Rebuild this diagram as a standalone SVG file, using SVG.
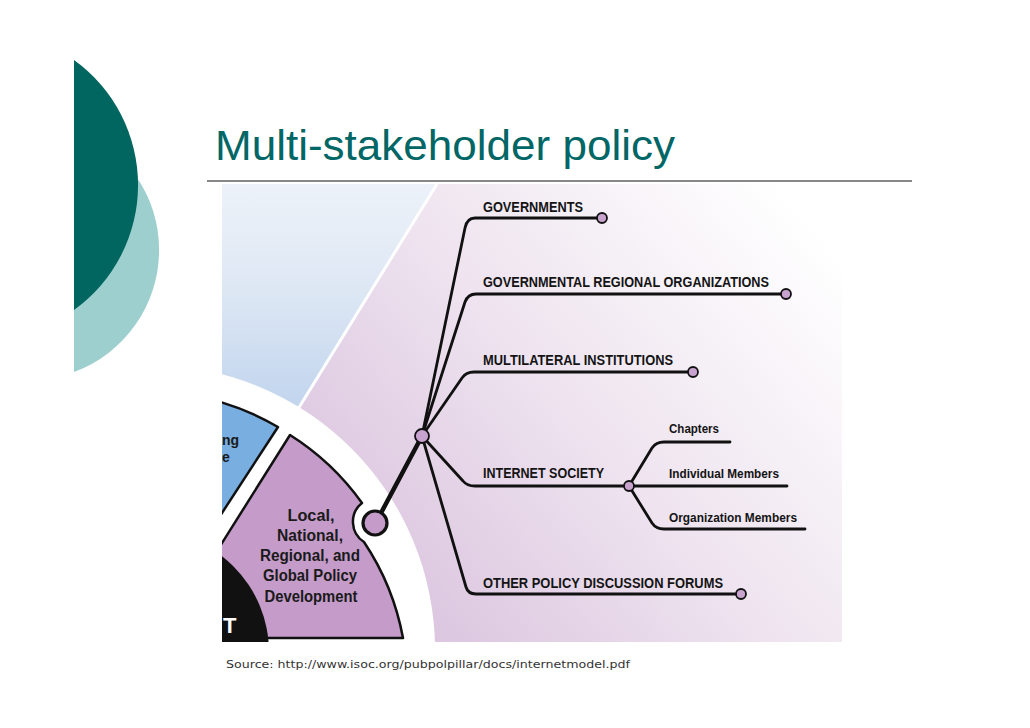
<svg xmlns="http://www.w3.org/2000/svg" width="1030" height="728" viewBox="0 0 1030 728">
<defs>
  <linearGradient id="gBlue" gradientUnits="userSpaceOnUse" x1="0" y1="184" x2="0" y2="400">
    <stop offset="0" stop-color="#edf2f9"/>
    <stop offset="0.5" stop-color="#dde7f4"/>
    <stop offset="1" stop-color="#c3d6ee"/>
  </linearGradient>
  <linearGradient id="gLav" gradientUnits="userSpaceOnUse" x1="420" y1="620" x2="840" y2="260">
    <stop offset="0" stop-color="#dcc6e0"/>
    <stop offset="0.45" stop-color="#eee3ef"/>
    <stop offset="1" stop-color="#ffffff"/>
  </linearGradient>
  <clipPath id="clipImg"><rect x="222" y="184" width="620" height="458"/></clipPath>
</defs>
<style>
  .title{font-family:"Liberation Sans",Arial,sans-serif;font-size:43px;fill:#006666}
  .lbl{font-family:"Liberation Sans",Arial,sans-serif;font-weight:bold;font-size:14px;fill:#141414}
  .sub{font-family:"Liberation Sans",Arial,sans-serif;font-weight:bold;font-size:12px;fill:#141414}
  .wt{font-family:"Liberation Sans",Arial,sans-serif;font-weight:bold;font-size:16px;fill:#1a1a1a;text-anchor:middle}
  .ln{fill:none;stroke:#111;stroke-width:2.8;stroke-linejoin:round;stroke-linecap:round}
  .dot{fill:#c9a3cf;stroke:#111;stroke-width:1.8}
  .src{font-family:"DejaVu Sans",Verdana,sans-serif;font-size:11px;fill:#333}
</style>

<!-- decorative left shapes -->
<g id="deco">
  <path d="M74 128 A130 130 0 0 1 74 372 Z" fill="#9dcfcf"/>
  <path d="M74 60 A154 154 0 0 1 74 310 Z" fill="#00665f"/>
</g>

<text class="title" x="215" y="160" textLength="460" lengthAdjust="spacingAndGlyphs">Multi-stakeholder policy</text>
<line x1="207" y1="181" x2="912" y2="181" stroke="#111" stroke-width="1.2"/>

<!-- picture background -->
<g id="picture" clip-path="url(#clipImg)">
  <rect x="222" y="184" width="620" height="458" fill="url(#gLav)"/>
  <polygon points="150,184 437,184 150,650" fill="url(#gBlue)"/>
  <line x1="437" y1="184" x2="290" y2="422" stroke="#fff" stroke-width="3"/>
  <circle cx="150" cy="650" r="285" fill="#fff"/>
  <g id="wedge-blue">
    <path d="M205 398 A258 258 0 0 1 278 427 L205 539 Z" fill="#79aee0" stroke="#111" stroke-width="2.5" stroke-linejoin="round"/>
    <text class="wt" x="222" y="445" style="text-anchor:start;font-size:14px">ng</text>
    <text class="wt" x="222" y="462" style="text-anchor:start;font-size:14px">e</text>
  </g>
  <g id="wedge-local">
    <path d="M290 435 A256 256 0 0 1 362 503 A24 24 0 0 0 364 542 A256 256 0 0 1 403 638 L190 638 L190 600 L205 570 Z" fill="#c49bc9" stroke="#111" stroke-width="2.5" stroke-linejoin="round"/>
    <text class="wt" x="311" y="521" textLength="47" lengthAdjust="spacingAndGlyphs">Local,</text>
    <text class="wt" x="310" y="541" textLength="66" lengthAdjust="spacingAndGlyphs">National,</text>
    <text class="wt" x="310" y="561" textLength="100" lengthAdjust="spacingAndGlyphs">Regional, and</text>
    <text class="wt" x="310" y="581" textLength="94" lengthAdjust="spacingAndGlyphs">Global Policy</text>
    <text class="wt" x="311" y="602" textLength="93" lengthAdjust="spacingAndGlyphs">Development</text>
  </g>
  <g id="core">
    <circle cx="148" cy="652" r="121" fill="#111"/>
    <text x="223" y="633" font-family="Liberation Sans, Arial, sans-serif" font-weight="bold" font-size="22" fill="#fff">T</text>
  </g>
</g>

<!-- connectors -->
<g id="connectors">
  <line x1="422" y1="436" x2="381" y2="513" stroke="#111" stroke-width="4.5" stroke-linecap="round"/>
  <path class="ln" d="M422 436 L465 228 Q467 218 475 218 L602 218"/>
  <path class="ln" d="M422 436 L465 302 Q468 294 476 294 L786 294"/>
  <path class="ln" d="M422 436 L462 378 Q466 372 474 372 L693 372"/>
  <path class="ln" d="M422 436 L463 481 Q467 486 475 486 L629 486"/>
  <path class="ln" d="M422 436 L466 587 Q468 594 476 594 L741 594"/>
  <path class="ln" d="M629 486 L652 448 Q656 442 664 442 L730 442"/>
  <path class="ln" d="M629 486 L787 486"/>
  <path class="ln" d="M629 486 L652 523 Q656 529 664 529 L805 529"/>
</g>

<!-- nodes -->
<g id="ring"><circle cx="375" cy="523" r="12" fill="#c49bc9" stroke="#111" stroke-width="3.2"/></g>
<g id="hub"><circle cx="422" cy="436" r="7" class="dot" stroke-width="2"/></g>
<g id="n-governments">
  <text class="lbl" x="483" y="212" textLength="100" lengthAdjust="spacingAndGlyphs">GOVERNMENTS</text>
  <circle class="dot" cx="602" cy="218" r="5"/>
</g>
<g id="n-gro">
  <text class="lbl" x="483" y="287" textLength="286" lengthAdjust="spacingAndGlyphs">GOVERNMENTAL REGIONAL ORGANIZATIONS</text>
  <circle class="dot" cx="786" cy="294" r="5"/>
</g>
<g id="n-multilateral">
  <text class="lbl" x="483" y="365" textLength="190" lengthAdjust="spacingAndGlyphs">MULTILATERAL INSTITUTIONS</text>
  <circle class="dot" cx="693" cy="372" r="5"/>
</g>
<g id="n-isoc">
  <text class="lbl" x="483" y="478" textLength="121" lengthAdjust="spacingAndGlyphs">INTERNET SOCIETY</text>
  <circle class="dot" cx="629" cy="486" r="5"/>
</g>
<g id="n-chapters"><text class="sub" x="669" y="433" textLength="50" lengthAdjust="spacingAndGlyphs">Chapters</text></g>
<g id="n-individual"><text class="sub" x="669" y="478" textLength="110" lengthAdjust="spacingAndGlyphs">Individual Members</text></g>
<g id="n-organization"><text class="sub" x="669" y="522" textLength="128" lengthAdjust="spacingAndGlyphs">Organization Members</text></g>
<g id="n-other">
  <text class="lbl" x="483" y="588" textLength="240" lengthAdjust="spacingAndGlyphs">OTHER POLICY DISCUSSION FORUMS</text>
  <circle class="dot" cx="741" cy="594" r="5"/>
</g>

<text class="src" x="226" y="668" textLength="404" lengthAdjust="spacingAndGlyphs">Source: http://www.isoc.org/pubpolpillar/docs/internetmodel.pdf</text>
</svg>
